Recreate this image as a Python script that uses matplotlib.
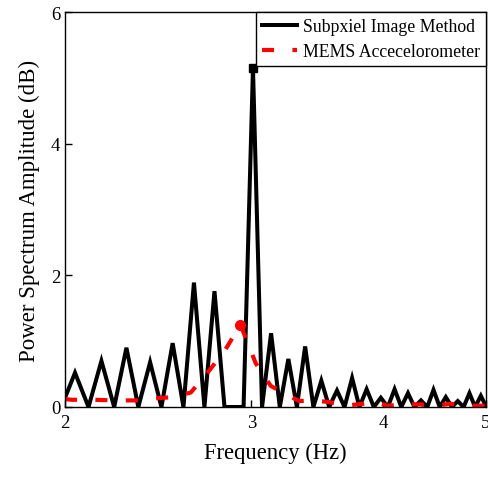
import matplotlib
matplotlib.use("Agg")
import matplotlib.pyplot as plt
from matplotlib.ticker import FixedLocator, NullLocator, FixedFormatter

plt.rcParams['font.family'] = ['Liberation Serif', 'DejaVu Serif']

# Subpixel image method spectrum
freq_img = [1.984, 2.044, 2.105, 2.165, 2.226, 2.286, 2.346, 2.407, 2.467, 2.528,
            2.588, 2.648, 2.709, 2.769, 2.830, 2.890, 2.950, 3.011, 3.071, 3.132,
            3.192, 3.252, 3.313, 3.373, 3.434, 3.494, 3.554, 3.615, 3.675, 3.736,
            3.796, 3.856, 3.917, 3.977, 4.038, 4.098, 4.158, 4.219, 4.279, 4.340,
            4.400, 4.460, 4.521, 4.581, 4.642, 4.702, 4.762, 4.823, 4.883, 4.944,
            5.004]
amp_img = [0.0, 0.52, 0.0, 0.70, 0.0, 0.90, 0.0, 0.68, 0.0, 0.97,
           0.0, 1.89, 0.0, 1.76, 0.0, 0.0, 0.0, 5.15, 0.0, 1.12,
           0.0, 0.73, 0.0, 0.92, 0.0, 0.40, 0.0, 0.25, 0.0, 0.44,
           0.0, 0.27, 0.0, 0.14, 0.0, 0.27, 0.0, 0.21, 0.0, 0.10,
           0.0, 0.26, 0.0, 0.15, 0.0, 0.09, 0.0, 0.21, 0.0, 0.17,
           0.0]

# MEMS accelerometer spectrum
freq_mems = [2.00, 2.03, 2.13, 2.23, 2.33, 2.43, 2.53, 2.63, 2.73, 2.83,
             2.93, 3.03, 3.13, 3.23, 3.33, 3.43, 3.53, 3.63, 3.73, 3.83,
             3.93, 4.03, 4.13, 4.23, 4.33, 4.43, 4.53, 4.63, 4.73, 4.83,
             4.93, 5.03]
amp_mems = [0.12, 0.11, 0.11, 0.10, 0.10, 0.13, 0.15, 0.22, 0.53, 0.85,
            1.25, 0.66, 0.32, 0.20, 0.09, 0.10, 0.08, 0.05, 0.03, 0.05,
            0.08, 0.02, 0.03, 0.04, 0.04, 0.02, 0.03, 0.05, 0.02, 0.02,
            0.02, 0.02]

xticks = [2, 3, 4, 5]
yticks = [0, 2, 4, 6]

fig = plt.figure(figsize=(4.88, 4.81), dpi=100)
ax = fig.add_axes([65/488, 73/481, (486-65)/488, (408-13)/481])

peak_img = amp_img.index(max(amp_img))
peak_mems = amp_mems.index(max(amp_mems))

ax.plot(freq_img, amp_img, color='black', lw=2.9, solid_joinstyle='miter',
        label='Subpxiel Image Method')
ax.plot(freq_mems, amp_mems, color='red', lw=3.0, linestyle=(0, (2.9, 4.4)),
        label='MEMS Accecelorometer')
ax.plot([freq_img[peak_img]], [amp_img[peak_img]], 's', color='black', ms=5.5)
ax.plot([freq_mems[peak_mems]], [amp_mems[peak_mems]], 'o', color='red', ms=7)

ax.set_xscale('log')
ax.set_xlim(2, 5)
ax.set_ylim(0, 6)
ax.xaxis.set_major_locator(FixedLocator(xticks))
ax.xaxis.set_major_formatter(FixedFormatter([str(t) for t in xticks]))
ax.xaxis.set_minor_locator(NullLocator())
ax.set_yticks(yticks)
ax.tick_params(direction='in', length=5, width=1, labelsize=13.5, top=False, right=False)
ax.tick_params(axis='x', pad=5)
for s in ax.spines.values():
    s.set_linewidth(1)

ax.set_xlabel('Frequency (Hz)', fontsize=16.3, labelpad=8)
ax.set_ylabel('Power Spectrum Amplitude (dB)', fontsize=16.5, labelpad=8)

leg = ax.legend(loc='upper right', fontsize=12.8, frameon=True, fancybox=False,
                edgecolor='black', framealpha=1, borderaxespad=0,
                handlelength=2.0, handletextpad=0.3, borderpad=0.35,
                labelspacing=0.45)
leg.get_frame().set_linewidth(1)

fig.savefig('out.png', dpi=100)
